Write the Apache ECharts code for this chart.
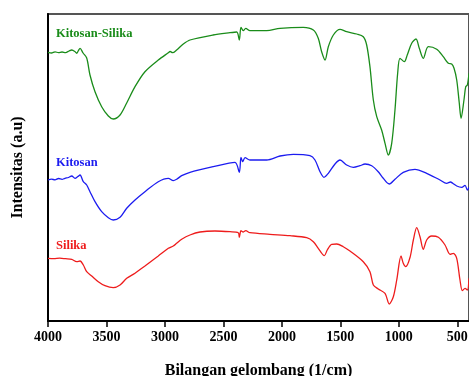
<!DOCTYPE html>
<html>
<head>
<meta charset="utf-8">
<script src="https://cdn.jsdelivr.net/npm/echarts@6/dist/echarts.min.js"></script>
<style>
  html, body { margin: 0; padding: 0; background: #fff; }
  #chart { width: 469px; height: 376px; }
</style>
</head>
<body>
<div id="chart"></div>
<script>
// FTIR spectra: Kitosan-Silika / Kitosan / Silika, x = wavenumber (reversed)
const X_TICKS = [4000, 3500, 3000, 2500, 2000, 1500, 1000, 500];

const ksWn  = [4000, 3970, 3940, 3910, 3880, 3850, 3820, 3797, 3770, 3755, 3740, 3726, 3700, 3669, 3641, 3598, 3541, 3484, 3442, 3384, 3327, 3256, 3171, 3057, 2974, 2955, 2935, 2900, 2843, 2786, 2589, 2444, 2386, 2364, 2350, 2330, 2309, 2273, 2130, 2016, 1817, 1731, 1689, 1660, 1631, 1603, 1560, 1503, 1446, 1360, 1304, 1275, 1247, 1218, 1189, 1147, 1118, 1090, 1061, 1033, 1010, 990, 953, 928, 890, 853, 825, 791, 748, 676, 620, 577, 548, 528, 505, 483, 468, 443, 428, 414, 400];
const ksInt = [268.7, 268, 269.2, 268.3, 269, 268.4, 270, 271, 269.5, 267.7, 270.5, 272.7, 268, 263, 246, 229.3, 214.3, 205, 202, 206, 218, 234.3, 249.3, 261, 268, 269.5, 268.3, 271, 277, 281, 286, 288.3, 289, 281, 293.7, 290.3, 292.7, 290.3, 290.3, 292.7, 293.7, 291, 282.7, 269.3, 261, 274.3, 286, 291.7, 289.3, 287, 284.3, 276, 254.3, 221, 204.3, 191, 177.7, 166, 177.7, 211, 247.7, 262.7, 259.3, 266, 277.7, 282, 272.7, 262.7, 274.3, 271.7, 264.3, 257.7, 257, 252.7, 241, 217.7, 202.7, 221, 234.3, 236, 247.7];

const kWn  = [4000, 3970, 3940, 3910, 3880, 3855, 3825, 3797, 3769, 3745, 3726, 3698, 3669, 3641, 3598, 3541, 3484, 3442, 3384, 3327, 3256, 3171, 3057, 2971, 2929, 2900, 2857, 2786, 2587, 2401, 2364, 2350, 2335, 2315, 2273, 2130, 2016, 1902, 1760, 1717, 1674, 1640, 1603, 1546, 1503, 1446, 1389, 1332, 1289, 1232, 1176, 1133, 1082, 1033, 962, 862, 762, 648, 591, 558, 539, 505, 462, 434, 414, 400];
const kInt = [141, 141.8, 141.2, 142.5, 141.6, 142.7, 143.5, 145, 142.7, 144.5, 146, 139.3, 136, 129.3, 119.3, 109.3, 103.3, 101, 103.7, 112.7, 121, 129.3, 139.3, 142.7, 140.3, 141.7, 145.3, 148.7, 154.3, 158.7, 148.7, 163.7, 159.3, 163.3, 161, 161, 165, 166.7, 165.3, 161, 149.3, 143.7, 147.7, 157, 161, 156, 153.7, 155.3, 157, 155.3, 149.3, 142.7, 137, 141.7, 148.7, 151.7, 147.7, 141, 137.7, 139, 137.7, 135, 133.7, 135.7, 131, 133.7];

const sWn  = [4000, 3950, 3900, 3850, 3797, 3755, 3726, 3698, 3669, 3626, 3570, 3513, 3442, 3384, 3327, 3256, 3171, 3057, 2971, 2929, 2900, 2857, 2786, 2700, 2572, 2444, 2373, 2364, 2350, 2330, 2309, 2273, 2102, 1931, 1788, 1731, 1689, 1637, 1612, 1574, 1531, 1475, 1418, 1304, 1247, 1218, 1176, 1118, 1082, 1047, 1018, 981, 962, 941, 904, 876, 847, 819, 791, 762, 719, 662, 605, 562, 534, 505, 477, 457, 434, 414, 400];
const sInt = [62.7, 62.4, 62.8, 62.3, 61.7, 59.3, 60, 56, 49.3, 45, 39.3, 35.3, 33.3, 36, 42.7, 47.7, 55, 65, 72.7, 75, 77.7, 81.7, 86, 89, 90, 89.3, 88.3, 83.7, 90.3, 89, 90.3, 88.3, 86.7, 85.3, 83.3, 79.3, 72.7, 65.3, 71, 76.7, 77, 74.3, 70, 59.3, 49.3, 36, 32, 27.7, 17, 24.3, 41, 65, 57.7, 54.3, 63.7, 81, 93.3, 84.3, 71.7, 81, 85, 83.7, 76, 66.7, 67.7, 62.7, 41, 30.3, 32.7, 31, 42.7];

const SERIES = [
  { name: "Kitosan-Silika", wn: ksWn, val: ksInt, color: "#1a8c1a", labelTop: 27 },
  { name: "Kitosan",        wn: kWn,  val: kInt,  color: "#1c1cf0", labelTop: 156 },
  { name: "Silika",         wn: sWn,  val: sInt,  color: "#ee1c1c", labelTop: 239 },
];

const FONT = "'Liberation Serif', 'Times New Roman', serif";

const chart = echarts.init(document.getElementById("chart"));

chart.setOption({
  backgroundColor: "#fff",
  animation: false,
  grid: {
    left: 48, right: 0, top: 14, bottom: 55,
    outerBoundsMode: "none", containLabel: false,
    show: true, borderColor: "#555", borderWidth: 2,
  },
  xAxis: {
    type: "value", inverse: true, min: 400, max: 4000,
    name: "Bilangan gelombang (1/cm)", nameLocation: "middle", nameGap: 42,
    nameTextStyle: { fontFamily: FONT, fontWeight: "bold", fontSize: 16, color: "#000" },
    axisLine: { lineStyle: { color: "#000", width: 2 } },
    axisTick: { show: true, inside: false, length: 6, customValues: X_TICKS, lineStyle: { color: "#000", width: 1.5 } },
    axisLabel: {
      customValues: X_TICKS, margin: 9, formatter: v => String(v),
      fontFamily: FONT, fontWeight: "bold", fontSize: 14, color: "#000",
    },
    splitLine: { show: false },
  },
  yAxis: {
    type: "value", min: 0, max: 307,
    name: "Intensitas (a.u)", nameLocation: "middle", nameGap: 22,
    nameTextStyle: { fontFamily: FONT, fontWeight: "bold", fontSize: 16, color: "#000" },
    axisLine: { show: true, lineStyle: { color: "#000", width: 2 } },
    axisTick: { show: false }, axisLabel: { show: false }, splitLine: { show: false },
  },
  graphic: SERIES.map(s => ({
    type: "text", left: 56, top: s.labelTop,
    style: { text: s.name, fill: s.color, font: `bold 12.5px ${FONT}` },
  })),
  series: SERIES.map(s => ({
    name: s.name, type: "line", symbol: "none", smooth: 0.3,
    data: s.wn.map((w, i) => [w, s.val[i]]),
    lineStyle: { color: s.color, width: 1.3 },
    itemStyle: { color: s.color },
  })),
});
</script>
</body>
</html>
